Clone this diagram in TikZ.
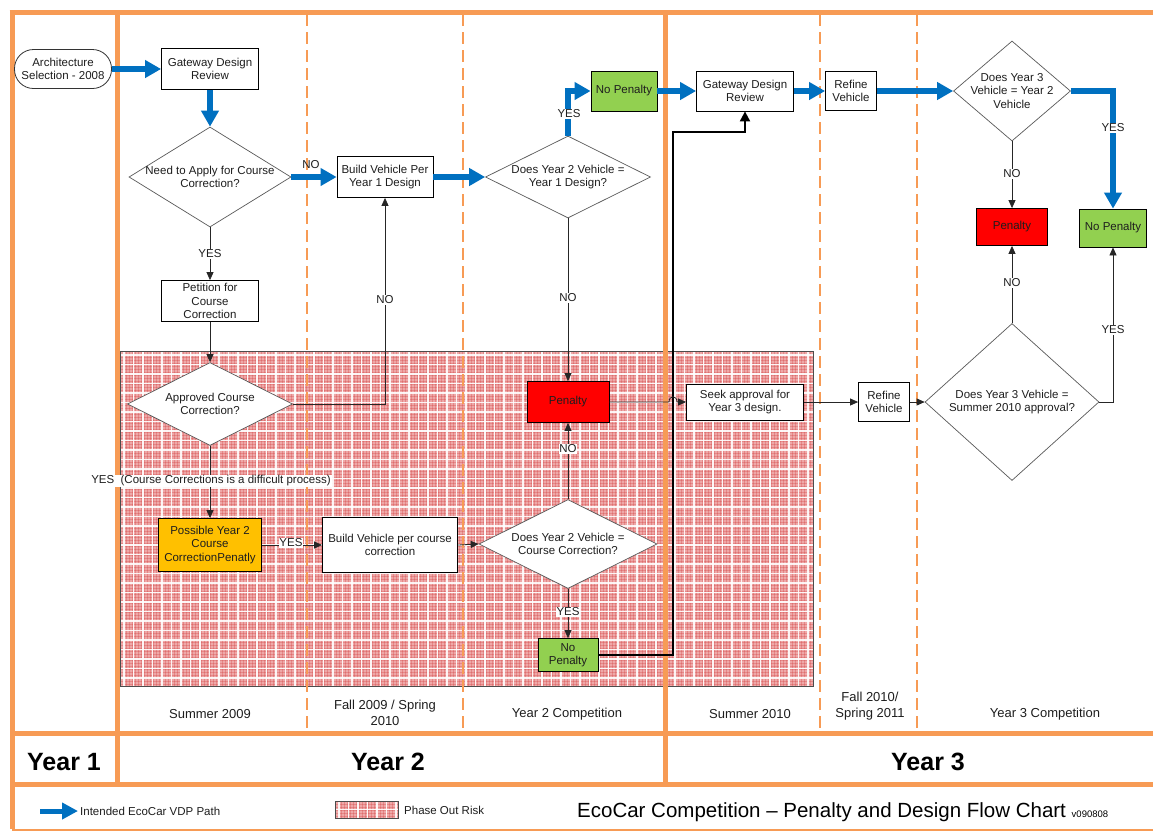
\documentclass[tikz,border=0pt]{standalone}
\usepackage{fontspec}
\setmainfont{Liberation Sans}
\usetikzlibrary{arrows.meta,shapes.geometric}
\definecolor{frameor}{RGB}{247,155,85}
\definecolor{vdpblue}{RGB}{0,112,192}
\definecolor{penred}{RGB}{255,0,0}
\definecolor{okgreen}{RGB}{146,208,80}
\definecolor{warnor}{RGB}{255,192,0}
\definecolor{hatchbase}{RGB}{238,168,168}
\definecolor{hatchdark}{RGB}{205,40,40}
\definecolor{txt}{RGB}{30,30,30}
\newcommand\nodefont{\fontsize{11.5}{13.5}\selectfont}
\begin{document}
\begin{tikzpicture}[x=1pt,y=-1pt, font=\nodefont, text=txt,
  box/.style={draw=black, line width=0.8pt, fill=white, align=center, inner sep=1pt},
  dia/.style={diamond, draw=black!65, line width=0.7pt, fill=white, inner sep=0pt},
  vdp/.style={draw=vdpblue, line width=6pt, -{Triangle[length=16pt,width=17pt]}},
  flow/.style={draw=black!85, line width=0.8pt, -{Triangle[length=8pt,width=7pt]}},
  ret/.style={draw=black, line width=2pt, -{Triangle[length=10pt,width=10pt]}},
  lbl/.style={fill=white, inner sep=0.8pt},
  orl/.style={draw=frameor, line width=5pt},
  dsh/.style={draw=frameor, line width=1.8pt, dash pattern=on 12pt off 6pt},
  per/.style={font=\fontsize{13}{16}\selectfont, align=center},
  yr/.style={font=\fontsize{25}{28}\selectfont\bfseries, text=black},
]
\useasboundingbox (0,0) rectangle (1153,831);
\fill[white] (0,0) rectangle (1153,831);

% ---- phase out risk area ----
\begin{scope}
  \clip (120,351) rectangle (813,686);
  \fill[hatchbase] (120,351) rectangle (813,686);
  \foreach \x in {120,123,...,813} \draw[hatchdark, opacity=0.25, line width=0.4pt] (\x,351) -- (\x,686);
  \foreach \y in {351,354,...,686} \draw[hatchdark, opacity=0.25, line width=0.4pt] (120,\y) -- (813,\y);
  \foreach \x in {124,133.5,...,813} \draw[white, opacity=0.9, line width=1.1pt] (\x,351) -- (\x,686);
  \foreach \y in {355,364.5,...,686} \draw[white, opacity=0.9, line width=1.1pt] (120,\y) -- (813,\y);
\end{scope}
\draw[black!70, line width=0.8pt] (120,351) rectangle (813,686);

% ---- frame ----
\draw[dsh] (307,14) -- (307,731);
\draw[dsh] (463,14) -- (463,731);
\draw[dsh] (820,14) -- (820,731);
\draw[dsh] (917,14) -- (917,731);
\draw[orl] (9.5,12) -- (1153,12);
\draw[orl] (12,12) -- (12,829);
\draw[orl] (117,12) -- (117,784);
\draw[orl] (665,12) -- (665,784);
\draw[orl] (12,733) -- (1153,733);
\draw[orl] (12,784) -- (1153,784);
\draw[draw=frameor, line width=2pt] (12,829.5) -- (1153,829.5);

% ---- nodes ----
\node[draw=black!80, line width=0.8pt, rounded corners=19pt, minimum width=97pt, minimum height=39pt, align=center, fill=white, inner sep=1pt] (arch) at (63,69) {Architecture\\Selection - 2008};
\node[box, minimum width=97pt, minimum height=41pt] (gw1) at (210,69) {Gateway Design\\Review};
\node[dia, minimum width=162pt, minimum height=100pt, label={[align=center]center:{Need to Apply for Course\\Correction?}}] (d1) at (210,177) {};
\node[box, minimum width=96pt, minimum height=41pt] (bv1) at (385,177) {Build Vehicle Per\\Year 1 Design};
\node[dia, minimum width=165pt, minimum height=82pt, label={[align=center]center:{Does Year 2 Vehicle =\\Year 1 Design?}}] (d2) at (568,177) {};
\node[box, fill=okgreen, minimum width=66pt, minimum height=40pt] (np1) at (624,91) {No Penalty};
\node[box, minimum width=97pt, minimum height=40pt] (gw2) at (745,91) {Gateway Design\\Review};
\node[box, minimum width=51pt, minimum height=39pt] (rf1) at (851,91) {Refine\\Vehicle};
\node[dia, minimum width=117pt, minimum height=100pt, label={[align=center]center:{Does Year 3\\Vehicle = Year 2\\Vehicle}}] (d3) at (1012,91) {};
\node[box, fill=penred, minimum width=71pt, minimum height=37pt] (pen3) at (1012,227) {Penalty};
\node[box, fill=okgreen, minimum width=67pt, minimum height=38pt] (np3) at (1113,228) {No Penalty};
\node[box, minimum width=97pt, minimum height=41pt] (pet) at (210,301) {Petition for\\Course\\Correction};
\node[dia, minimum width=165pt, minimum height=83pt, label={[align=center]center:{Approved Course\\Correction?}}] (d4) at (210,404) {};
\node[box, fill=warnor, minimum width=103pt, minimum height=53pt] (pos) at (210,545) {Possible Year 2\\Course\\CorrectionPenatly};
\node[box, minimum width=135pt, minimum height=55pt] (bv2) at (390,545) {Build Vehicle per course\\correction};
\node[dia, minimum width=178pt, minimum height=89pt, label={[align=center]center:{Does Year 2 Vehicle =\\Course Correction?}}] (d5) at (568,544) {};
\node[box, fill=penred, minimum width=82pt, minimum height=41pt] (pen2) at (568,402) {Penalty};
\node[box, fill=okgreen, minimum width=60pt, minimum height=33pt] (np2) at (568,655) {No\\Penalty};
\node[box, minimum width=117pt, minimum height=36pt] (seek) at (745,402) {Seek approval for\\Year 3 design.};
\node[box, minimum width=51pt, minimum height=39pt] (rf2) at (884,402) {Refine\\Vehicle};
\node[dia, minimum width=174pt, minimum height=157pt, label={[align=center]center:{Does Year 3 Vehicle =\\Summer 2010 approval?}}] (d6) at (1012,402) {};

% ---- connectors ----
\draw[vdp] (arch.east) -- (gw1.west);
\draw[vdp] (gw1.south) -- (d1.north);
\draw[vdp] (d1.east) -- (bv1.west);
\draw[vdp] (bv1.east) -- (d2.west);
\draw[vdp] (d2.north) |- (np1.west);
\draw[vdp] (np1.east) -- (gw2.west);
\draw[vdp] (gw2.east) -- (rf1.west);
\draw[vdp] (rf1.east) -- (d3.west);
\draw[vdp] (d3.east) -| (np3.north);
\draw[flow] (d3.south) -- (pen3.north);
\draw[flow] (d1.south) -- (pet.north);
\draw[flow] (pet.south) -- (d4.north);
\draw[flow] (d4.east) -| (bv1.south);
\draw[flow] (d4.south) -- (pos.north);
\draw[flow] (pos.east) -- (bv2.west);
\draw[flow] (bv2.east) -- (d5.west);
\draw[flow] (d5.north) -- (pen2.south);
\draw[flow] (d5.south) -- (np2.north);
\draw[flow] (d2.south) -- (pen2.north);
\coordinate (j1) at (673,132);
\draw[ret] (np2.east) -| (j1) -| (gw2.south);
\coordinate (hopL) at (669,402);
\coordinate (hopR) at (677,402);
\draw[flow] (pen2.east) -- (hopL) .. controls +(0,-7) and +(0,-7) .. (hopR) -- (seek.west);
\draw[flow] (seek.east) -- (rf2.west);
\draw[flow] (rf2.east) -- (d6.west);
\draw[flow] (d6.north) -- (pen3.south);
\draw[flow] (d6.east) -| (np3.south);

% ---- connector labels ----
\node (l1) at (311,165) {NO};
\node[lbl] (l2) at (569,114) {YES};
\node[lbl] (l3) at (1113,128) {YES};
\node[lbl] (l4) at (1012,174) {NO};
\node[lbl] (l5) at (210,254) {YES};
\node[lbl] (l6) at (385,300) {NO};
\node[lbl] (l7) at (211,481) {YES\ \ (Course Corrections is a difficult process)};
\node[lbl] (l8) at (291,543) {YES};
\node[lbl] (l9) at (568,449) {NO};
\node[lbl] (l10) at (568,612) {YES};
\node[lbl] (l11) at (568,298) {NO};
\node[lbl] (l12) at (1012,283) {NO};
\node[lbl] (l13) at (1113,330) {YES};

% ---- period and year labels ----
\node[per] (p1) at (210,714) {Summer 2009};
\node[per] (p2) at (385,713) {Fall 2009 / Spring\\2010};
\node[per] (p3) at (567,714) {Year 2 Competition};
\node[per] (p4) at (750,714) {Summer 2010};
\node[per] (p5) at (870,706) {Fall 2010/\\Spring 2011};
\node[per] (p6) at (1045,714) {Year 3 Competition};
\node[yr, anchor=base] (y1) at (64,770) {Year 1};
\node[yr, anchor=base] (y2) at (388,770) {Year 2};
\node[yr, anchor=base] (y3) at (928,770) {Year 3};

% ---- legend ----
\coordinate (legA) at (40,811);
\coordinate (legB) at (78,811);
\draw[vdp, line width=5pt, -{Triangle[length=16pt,width=16pt]}] (legA) -- (legB);
\node[anchor=west, inner sep=0pt] (legt) at (80,811) {Intended EcoCar VDP Path};
\begin{scope}
  \clip (335,801) rectangle (398,818);
  \fill[hatchbase] (335,801) rectangle (398,818);
  \foreach \x in {335,338,...,398} \draw[hatchdark, opacity=0.25, line width=0.4pt] (\x,801) -- (\x,818);
  \foreach \y in {801,804,...,818} \draw[hatchdark, opacity=0.25, line width=0.4pt] (335,\y) -- (398,\y);
  \foreach \x in {339,348.5,...,398} \draw[white, opacity=0.9, line width=1.1pt] (\x,801) -- (\x,818);
  \draw[white, opacity=0.9, line width=1.1pt] (335,809.5) -- (398,809.5);
\end{scope}
\draw[black!70, line width=0.8pt] (335,801) rectangle (398,818);
\node[anchor=west, inner sep=0pt] (risk) at (404,810) {Phase Out Risk};
\node[anchor=base west, inner sep=0pt, font=\fontsize{20.5}{24}\selectfont, text=black] (title) at (577,817) {EcoCar Competition -- Penalty and Design Flow Chart {\fontsize{9.5}{10}\selectfont v090808}};
\end{tikzpicture}
\end{document}
